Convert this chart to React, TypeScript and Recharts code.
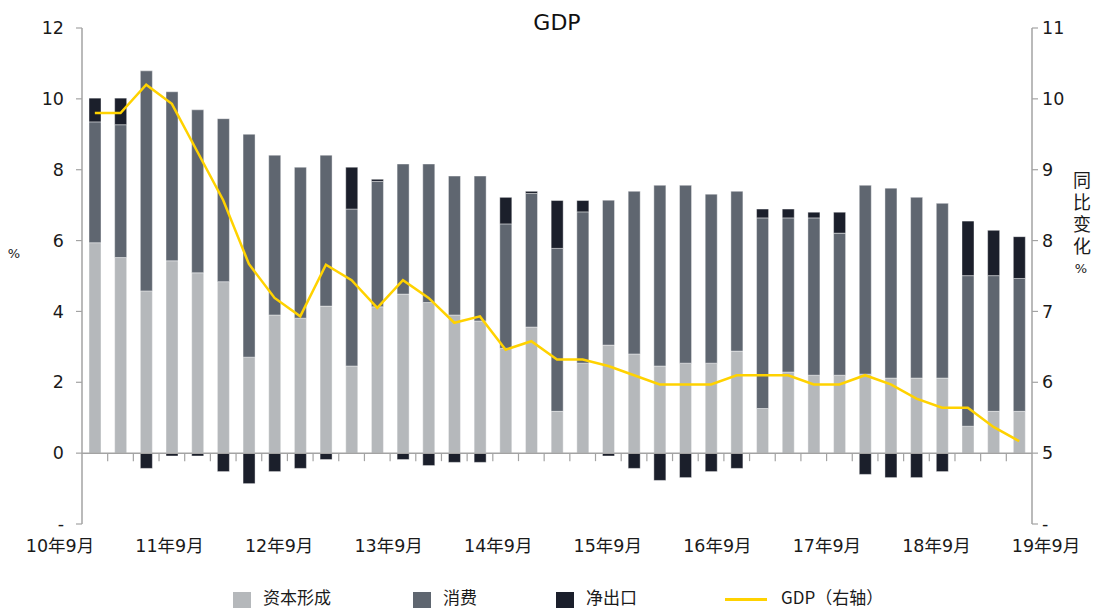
import React from 'react'
import {
  ComposedChart,
  Bar,
  Line,
  XAxis,
  YAxis,
  ReferenceLine,
} from 'recharts'

// quarterly contributions to GDP growth (pp), GDP yoy on right axis
const months = [
  '10年9月', '10年12月',
  '11年3月', '11年6月', '11年9月', '11年12月',
  '12年3月', '12年6月', '12年9月', '12年12月',
  '13年3月', '13年6月', '13年9月', '13年12月',
  '14年3月', '14年6月', '14年9月', '14年12月',
  '15年3月', '15年6月', '15年9月', '15年12月',
  '16年3月', '16年6月', '16年9月', '16年12月',
  '17年3月', '17年6月', '17年9月', '17年12月',
  '18年3月', '18年6月', '18年9月', '18年12月',
  '19年3月', '19年6月', '19年9月',
]
const capital = [
  5.94, 5.52, 4.58, 5.43, 5.09, 4.84, 2.71, 3.9, 3.81, 4.15, 2.46, 4.13, 4.49,
  4.25, 3.9, 3.73, 2.96, 3.56, 1.18, 2.54, 3.05, 2.8, 2.46, 2.54, 2.54, 2.88,
  1.26, 2.29, 2.2, 2.2, 2.23, 2.12, 2.12, 2.12, 0.76, 1.18, 1.18,
]
const consumption = [
  3.41, 3.75, 6.21, 4.77, 4.6, 4.6, 6.29, 4.51, 4.26, 4.26, 4.43, 3.54, 3.67,
  3.91, 3.92, 4.09, 3.51, 3.77, 4.6, 4.27, 4.09, 4.59, 5.1, 5.02, 4.77, 4.51,
  5.38, 4.35, 4.44, 4.01, 5.33, 5.36, 5.1, 4.93, 4.25, 3.83, 3.75,
]
const netExports = [
  0.67, 0.75, -0.43, -0.08, -0.08, -0.52, -0.86, -0.52, -0.43, -0.18, 1.18, 0.06,
  -0.18, -0.35, -0.26, -0.26, 0.75, 0.06, 1.35, 0.32, -0.08, -0.43, -0.77, -0.69,
  -0.52, -0.43, 0.25, 0.25, 0.16, 0.59, -0.6, -0.69, -0.69, -0.52, 1.54, 1.28, 1.18,
]
const gdp = [
  9.8, 9.8, 10.2, 9.93, 9.25, 8.57, 7.67, 7.19, 6.93, 7.66, 7.44, 7.05, 7.44,
  7.19, 6.84, 6.93, 6.46, 6.58, 6.32, 6.32, 6.23, 6.1, 5.97, 5.97, 5.97, 6.1,
  6.1, 6.1, 5.97, 5.97, 6.1, 5.97, 5.77, 5.64, 5.64, 5.37, 5.17,
]
const leftTicks = [-2, 0, 2, 4, 6, 8, 10, 12]
const rightTicks = [4, 5, 6, 7, 8, 9, 10, 11]

const data = months.map((m, i) => ({
  month: m,
  capital: capital[i],
  consumption: consumption[i],
  net: netExports[i],
  gdp: gdp[i],
}))

const W = 1093
const H = 608
const PLOT_LEFT = 82
const PLOT_RIGHT = 1032
const PLOT_TOP = 28
const PLOT_BOTTOM = 524
const BAND = (PLOT_RIGHT - PLOT_LEFT) / months.length
const ZERO_Y = PLOT_TOP + (12 / 14) * (PLOT_BOTTOM - PLOT_TOP)
// Excel spreads the year labels evenly, a bit wider than the plot
const LABEL_LEFT = PLOT_LEFT - 22
const LABEL_STEP = (PLOT_RIGHT - PLOT_LEFT + 36) / 9

const FONT = '"DejaVu Sans", "Noto Sans CJK SC", sans-serif'
const AXIS = '#a3a3a3'
const C_CAP = '#b5b8bb'
const C_CONS = '#5f6670'
const C_NET = '#1b1f2b'
const C_GDP = '#ffd200'

function QuarterTick(props: any) {
  const { x, index, payload } = props
  const tickX = x - BAND / 2
  const show = String(payload.value).endsWith('9月')
  const k = Math.round(index / 4)
  return (
    <g>
      {index > 0 && (
        <line x1={tickX} x2={tickX} y1={ZERO_Y} y2={ZERO_Y + 8} stroke={AXIS} strokeWidth={1.2} />
      )}
      {show && (
        <text
          x={LABEL_LEFT + k * LABEL_STEP}
          y={552}
          textAnchor="middle"
          fontSize={17.5}
          fontFamily={FONT}
          fill="#1a1a1a"
        >
          {payload.value}
        </text>
      )}
    </g>
  )
}

const legendItems = [
  { label: '资本形成', color: C_CAP, x: 233, type: 'box' },
  { label: '消费', color: C_CONS, x: 413, type: 'box' },
  { label: '净出口', color: C_NET, x: 556, type: 'box' },
  { label: 'GDP（右轴）', color: C_GDP, x: 725, type: 'line' },
]

export default function App() {
  return (
    <div
      style={{
        position: 'absolute',
        left: 0,
        top: 0,
        width: W,
        height: H,
        overflow: 'hidden',
        background: '#fff',
        fontFamily: FONT,
      }}
    >
      <div
        style={{
          position: 'absolute',
          left: 0,
          width: (PLOT_LEFT + PLOT_RIGHT),
          top: 10,
          textAlign: 'center',
          fontSize: 22,
          color: '#111',
        }}
      >
        GDP
      </div>

      <ComposedChart
        width={W}
        height={H}
        data={data}
        stackOffset="sign"
        barSize={12}
        margin={{ top: PLOT_TOP, right: 0, left: 0, bottom: 54 }}
      >
        <XAxis
          dataKey="month"
          axisLine={false}
          tickLine={false}
          interval={0}
          height={30}
          tick={QuarterTick}
        />
        <YAxis
          yAxisId="left"
          width={PLOT_LEFT}
          domain={[-2, 12]}
          ticks={leftTicks}
          allowDataOverflow
          tickFormatter={(v: number) => (v === -2 ? '-' : String(v))}
          stroke={AXIS}
          axisLine={{ stroke: AXIS, strokeWidth: 1.5 }}
          tickLine={{ stroke: AXIS, strokeWidth: 1.2 }}
          tickSize={6}
          tickMargin={12}
          tick={{ fill: '#1a1a1a', fontSize: 17.5, fontFamily: FONT }}
          label={{
            content: () => (
              <text x={14} y={258} textAnchor="middle" fontSize={13} fontFamily={FONT} fill="#1a1a1a">
                %
              </text>
            ),
          }}
        />
        <YAxis
          yAxisId="right"
          orientation="right"
          width={W - PLOT_RIGHT}
          domain={[4, 11]}
          ticks={rightTicks}
          allowDataOverflow
          tickFormatter={(v: number) => (v === 4 ? '-' : String(v))}
          stroke={AXIS}
          axisLine={{ stroke: AXIS, strokeWidth: 1.5 }}
          tickLine={{ stroke: AXIS, strokeWidth: 1.2 }}
          tickSize={6}
          tickMargin={4}
          tick={{ fill: '#1a1a1a', fontSize: 17.5, fontFamily: FONT, textAnchor: 'start' }}
          label={{
            content: () => (
              <text x={1082} textAnchor="middle" fontFamily={FONT} fill="#1a1a1a">
                {['同', '比', '变', '化'].map((c, i) => (
                  <tspan key={c} x={1082} y={187 + i * 22} fontSize={18}>
                    {c}
                  </tspan>
                ))}
                <tspan x={1081} y={273} fontSize={13}>
                  %
                </tspan>
              </text>
            ),
          }}
        />

        <ReferenceLine yAxisId="left" y={0} stroke={AXIS} strokeWidth={1.5} />

        <Bar yAxisId="left" dataKey="capital" name="资本形成" stackId="a" fill={C_CAP}
          stroke="#ffffff" strokeOpacity={0.4} strokeWidth={1} isAnimationActive={false} />
        <Bar yAxisId="left" dataKey="consumption" name="消费" stackId="a" fill={C_CONS}
          stroke="#ffffff" strokeOpacity={0.4} strokeWidth={1} isAnimationActive={false} />
        <Bar yAxisId="left" dataKey="net" name="净出口" stackId="a" fill={C_NET}
          stroke="#ffffff" strokeOpacity={0.4} strokeWidth={1} isAnimationActive={false} />

        <Line
          yAxisId="right"
          type="linear"
          dataKey="gdp"
          name="GDP（右轴）"
          stroke={C_GDP}
          strokeWidth={2.5}
          dot={false}
          activeDot={false}
          isAnimationActive={false}
        />
      </ComposedChart>

      {legendItems.map(item => (
        <div key={item.label} style={{ position: 'absolute', left: item.x, top: 586, height: 22 }}>
          {item.type === 'box' ? (
            <div style={{ position: 'absolute', left: 0, top: 6, width: 18, height: 18, background: item.color }} />
          ) : (
            <div style={{ position: 'absolute', left: 0, top: 12, width: 42, height: 2.5, background: item.color }} />
          )}
          <span
            style={{
              position: 'absolute',
              left: item.type === 'box' ? 30 : 56,
              top: 0,
              lineHeight: '22px',
              fontSize: 17,
              color: '#1a1a1a',
              fontFamily: '"Noto Sans CJK SC", "DejaVu Sans", sans-serif',
              whiteSpace: 'nowrap',
            }}
          >
            {item.label}
          </span>
        </div>
      ))}
    </div>
  )
}
